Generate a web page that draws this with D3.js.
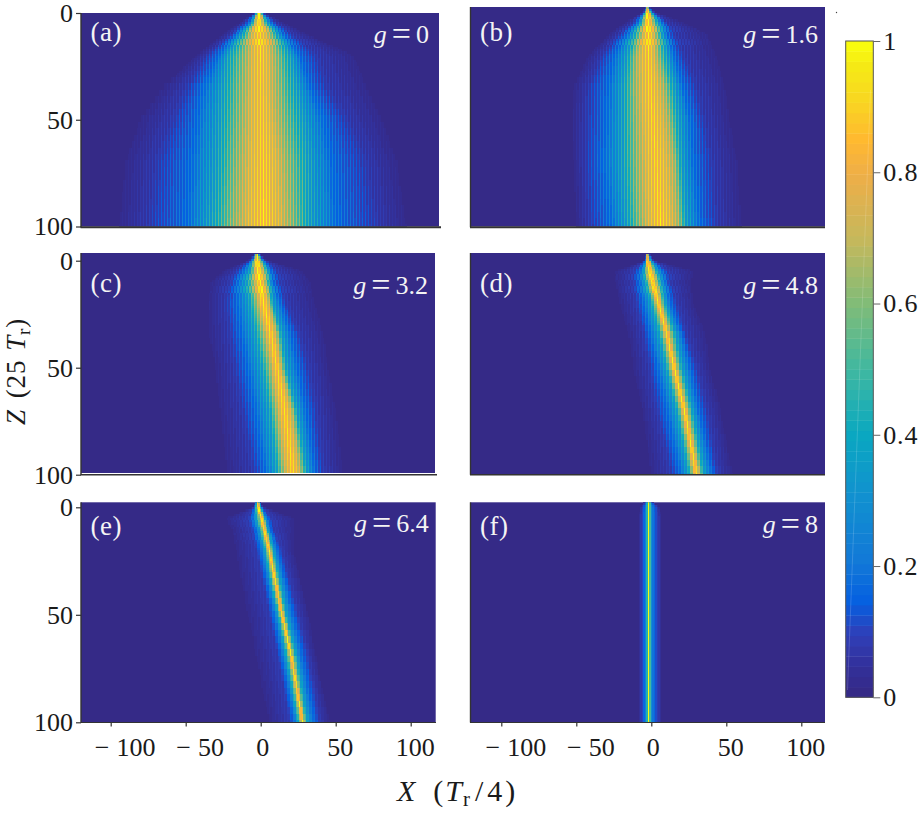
<!DOCTYPE html>
<html><head><meta charset="utf-8">
<script src="https://cdn.jsdelivr.net/npm/d3@7"></script>
<style>
html,body{margin:0;padding:0;background:#fff;overflow:hidden}
svg{display:block}
text{font-family:"Liberation Serif",serif;fill:#1a1a1a}
</style></head><body>
<script>
// ---- data ----
const colorbarTicks = [0, 0.2, 0.4, 0.6, 0.8, 1];
const colorStops = ["#352a87","#33309a","#2f3fb8","#0560e0","#1278d8","#1190d0","#0aa8c0","#40b8a0","#80bc78","#c5b85c","#eeae48","#ffb930","#f8d820","#f5ea15","#f9fb0e"];
const colorStopAt = [0, 0.04, 0.09, 0.14, 0.2, 0.3, 0.4, 0.5, 0.6, 0.7, 0.8, 0.854, 0.92, 0.97, 1];
const xTicks = [-100, -50, 0, 50, 100];
const zTicks = [0, 50, 100];
const zRows = [-3, 0, 5, 10, 20, 35, 50, 70, 100];
// intensity at each breakpoint, from far left through the crest to far right
const sideLevels = [0.015, 0.08, 0.2, 0.4, 0.7];
// each row: X where intensity crosses sideLevels going in, crest X, then out again
const rowsA = [
 [-2.5,-2.2,-2,-1.6,-1.3,-1,-.7,-.4,0,.3,.6],
 [-4,-3.5,-3,-2.5,-2,-1,0,.5,1,1.5,2],
 [-15,-11.5,-8,-6,-4,-1,2,5,8,11,17],
 [-25,-19,-16,-12,-7,-1,6,11,15,20,31],
 [-43,-36,-28,-22,-9,0,9,20,26,37,62],
 [-65,-49,-38,-25,-10,0,10,24,33,44,71],
 [-80,-58,-42,-27,-11,1,12,28,42,57,81],
 [-90,-69,-46,-29,-13,2,16,32,47,70,91],
 [-94,-74,-49,-33,-15,2,19,33,51,77,97]];
const rowsB = [
 [-4,-3.7,-3.4,-3.1,-2.9,-2.7,-2.5,-2.3,-2,-1.7,-1.4],
 [-6.4,-5.5,-5,-4.4,-3.8,-2.7,-1,0,1,2,3.5],
 [-19,-13,-10,-7.5,-5,-2.7,1.3,4.6,8,11,23],
 [-28,-21,-16,-12,-6.4,-2,2.4,7,10,15,37],
 [-42,-33,-25,-16,-10,-2,3.5,10,15,21,43],
 [-52,-42,-29,-19,-10,-1,8,15,21,30,49],
 [-53,-43,-30,-19,-9,1,11,18,26,35,52],
 [-52,-44,-32,-19,-8,3,15,20,28,40,57],
 [-50,-41,-27,-16,-6,6,18,23,32,43,60]];
const rowsC = [
 [-4,-3.7,-3.4,-3.1,-2.8,-2.2,-1.8,-1.5,-1.2,-.9,-.5],
 [-9,-7,-6,-5,-4,-2.2,-.5,1,2,3.5,5],
 [-25,-16,-11.5,-7,-4,-1.5,2,5,7,11,28],
 [-33,-20,-15,-9,-4,-.5,3,6,8,13,33],
 [-35,-23,-15,-7,-2,2,6,8,13,17,36],
 [-34,-20,-12,-3,3,7,11,14,20,26,42],
 [-30,-17,-8,1,7,11,14,17,24,32,45],
 [-27,-12,-3,6,11,16,21,24,30,37,50],
 [-22,-4,4,11,16,22,27,31,36,42,55]];
const rowsD = [
 [-4,-3.7,-3.4,-3.2,-3,-2.7,-2.4,-2.1,-1.8,-1.5,-1],
 [-5,-4.5,-4,-3.7,-3.4,-2.7,-1.5,-.5,.5,1.5,2.4],
 [-24,-12,-7.5,-5,-3,-1.5,1.3,3.5,7,11,28],
 [-24,-12,-7.5,-4,-1.5,.7,3,6,9,12,26],
 [-21,-10,-5,0,3,4.6,6.5,9,12,17,28],
 [-15,-5,0,5.5,8.8,10.6,12.5,16,20,23,36],
 [-12,-1,4.6,10,13,15,17,20,25,30,39],
 [-6,3.5,11,17,20,22,24,27,31,37,46],
 [0,13.5,20,25,28,30,32,35,40,44,54]];
const rowsE = [
 [-3.5,-3.2,-3,-2.7,-2.4,-1.5,-1.2,-1,-.8,-.5,-.2],
 [-5,-4.3,-3.8,-3.2,-2.6,-1.5,-.6,0,.6,1.2,2],
 [-23,-8,-5,-2.7,-.3,.7,1.7,3,4,7,22],
 [-19,-6,-2.7,-.4,1.4,2.4,3.4,4.7,6,8.4,22],
 [-16,-2.7,.7,3,4.8,5.8,6.8,8.4,10.7,14,22],
 [-12.7,1.8,5,7,9,10,11,13,16,19.5,27],
 [-8,6,9.5,11.8,13.4,14.4,15.4,17,20.7,25,32],
 [-2.7,11.8,15,17.5,19.7,20.7,21.7,24,27,32,37],
 [6,19.5,23,25,27,28,29,31,35,39.5,46]];
const rowsF = [
 [-4.5,-3.8,-3.3,-3,-2.5,-2,-1.4,-.8,-.7,-.3,.2],
 [-7.5,-6,-4.2,-3.1,-2.5,-2,-1.4,-.8,.8,3.5,5.5],
 [-8.6,-6.4,-4.2,-3.1,-2.5,-2,-1.4,-.8,.8,4,6.9],
 [-8.6,-6.4,-4.2,-3.1,-2.5,-2,-1.4,-.8,.8,4,6.9],
 [-8.6,-6.4,-4.2,-3.1,-2.5,-2,-1.4,-.8,.8,4,6.9],
 [-8.6,-6.4,-4.2,-3.1,-2.5,-2,-1.4,-.8,.8,4,6.9],
 [-8.6,-6.4,-4.2,-3.1,-2.5,-2,-1.4,-.8,.8,4,6.9],
 [-8.6,-6.4,-4.2,-3.1,-2.5,-2,-1.4,-.8,.8,4,6.9],
 [-8.6,-6.4,-4.2,-3.1,-2.5,-2,-1.4,-.8,.8,4,6.9]];
// crest intensity at each of zRows
const crestA = [1, 1, .97, .92, .9, .88, .88, .9, .92];
const crestB = [1, 1, .98, .95, .9, .9, .9, .9, .92];
const crestC = [1, 1, 1, .98, .95, .92, .92, .92, .92];
const crestD = [1, 1, 1, .98, .96, .95, .95, .95, .95];
const crestE = [1, 1, 1, .98, .97, .97, .97, .97, .98];
const crestF = [1, 1, 1, 1, 1, 1, 1, 1, 1];
const panelIds = ["(a)", "(b)", "(c)", "(d)", "(e)", "(f)"];
const gainLabels = ["0", "1.6", "3.2", "4.8", "6.4", "8"];
const panelRows = [rowsA, rowsB, rowsC, rowsD, rowsE, rowsF];
const panelCrest = [crestA, crestB, crestC, crestD, crestE, crestF];

// ---- layout ----
const W = 921, H = 813;
const layout = [
 {l:81, r:439,   t:13,   b:226.5, z0:13,    z1:226.5, x0:260.7, axR:441, axY:227.2, yAx:true,  xAx:false, axW:2,   tagY:41,  gY:42.5},
 {l:470.5,r:825, t:7,    b:226.5, z0:13,    z1:226.5, x0:651.3, axR:825, axY:227.2, yAx:false, xAx:false, axW:2,   tagY:41,  gY:43},
 {l:81, r:435,   t:253,  b:473,   z0:260.7, z1:474.7, x0:260.7, axR:437, axY:474.8, yAx:true,  xAx:false, axW:1.6, tagY:292, gY:294},
 {l:470.5,r:825, t:253,  b:474,   z0:260.7, z1:474.7, x0:651.3, axR:825, axY:474.8, yAx:false, xAx:false, axW:1.6, tagY:292, gY:294},
 {l:81, r:435.7, t:502.3,b:722,   z0:507.3, z1:722.3, x0:260.7, axR:436, axY:722.5, yAx:true,  xAx:true,  axW:1,   tagY:535, gY:532},
 {l:470.5,r:825, t:502.3,b:722,   z0:507.3, z1:722.3, x0:651.3, axR:825, axY:722.5, yAx:false, xAx:true,  axW:1,   tagY:535, gY:533}
];
const pxPerX = 1.5;
const axisInk = "#333";
const bg = colorStops[0];

// ---- colour ----
const parula = d3.scaleLinear().domain(colorStopAt).range(colorStops).clamp(true);
const bands = 64;
const colorOf = v => parula(Math.round(Math.min(1, Math.max(0, v)) * (bands - 1)) / (bands - 1));

const svg = d3.select("body").append("svg").attr("width", W).attr("height", H).attr("viewBox", [0,0,W,H]);
const xCols = d3.range(-125, 125);
const zSteps = d3.range(-3, 30, 1).concat(d3.range(30, 100, 3));
const stripeDepth = [0.08, 0.08, 0.07, 0.06, 0.04, 0];

layout.forEach((p, k) => {
  const g = svg.append("g");
  const clipId = "clip" + k;
  svg.append("clipPath").attr("id", clipId).append("rect")
    .attr("x", p.l).attr("y", p.t).attr("width", p.r - p.l).attr("height", p.b - p.t);
  const x = d3.scaleLinear().domain([-100, 100]).range([p.x0 - 100 * pxPerX, p.x0 + 100 * pxPerX]);
  const z = d3.scaleLinear().domain([0, 100]).range([p.z0, p.z1]);
  g.append("rect").attr("x", p.l).attr("y", p.t).attr("width", p.r - p.l).attr("height", p.b - p.t).attr("fill", bg);

  // breakpoints follow Z row by row
  const rows = panelRows[k];
  const crestAt = d3.scaleLinear().domain(zRows).range(panelCrest[k]).clamp(true);
  const tracks = d3.range(11).map(i => d3.scaleLinear().domain(zRows).range(rows.map(r => r[i])).clamp(true));

  const cells = [];
  zSteps.forEach((zv, ri) => {
    const zNext = ri + 1 < zSteps.length ? zSteps[ri + 1] : 101;
    const zMid = (zv + zNext) / 2;
    const bp = tracks.map(t => t(zMid));
    const levelAt = d3.scaleLinear()
      .domain(bp)
      .range([...sideLevels, crestAt(zMid), ...sideLevels.slice().reverse()]);
    const rowPhase = zv < 15 ? Math.floor((zv + 3) / 3) : 0;
    xCols.forEach(c => {
      if (c < bp[0] || c > bp[10]) return;
      const base = levelAt(c);
      const parity = ((c + rowPhase) & 1) ? -1 : 1;
      cells.push({c, zv, zNext, v: base + parity * stripeDepth[k] * Math.min(1, base / 0.3)});
    });
  });
  g.append("g").attr("clip-path", `url(#${clipId})`)
    .selectAll("rect").data(cells).join("rect")
    .attr("x", d => Math.round(x(d.c - 0.5)))
    .attr("y", d => Math.round(z(d.zv)))
    .attr("width", d => Math.round(x(d.c + 0.5)) - Math.round(x(d.c - 0.5)))
    .attr("height", d => Math.round(z(d.zNext)) - Math.round(z(d.zv)))
    .attr("shape-rendering", "crispEdges")
    .attr("fill", d => colorOf(d.v));

  // axis lines and ticks
  g.append("line").attr("x1", p.l - 0.5).attr("x2", p.axR).attr("y1", p.axY).attr("y2", p.axY)
    .attr("stroke", axisInk).attr("stroke-width", p.axW);
  g.append("line").attr("x1", p.l).attr("x2", p.l).attr("y1", p.t).attr("y2", p.axY)
    .attr("stroke", axisInk).attr("stroke-width", 1.4);

  if (p.yAx) {
    const ax = d3.axisLeft(z).tickValues(zTicks).tickSize(5).tickPadding(3);
    const gy = g.append("g").attr("transform", `translate(${p.l},0)`).call(ax);
    gy.select(".domain").remove();
    gy.selectAll("line").attr("stroke", axisInk).attr("stroke-width", 1.2);
    gy.selectAll("text").attr("font-size", 26).attr("fill", "#1a1a1a").style("font-family", '"Liberation Serif",serif');
  }
  if (p.xAx) {
    const ax = d3.axisBottom(x).tickValues(xTicks).tickSize(4).tickPadding(7).tickFormat(() => "");
    const gx = g.append("g").attr("transform", `translate(0,${p.axY})`).call(ax);
    gx.select(".domain").remove();
    gx.selectAll("line").attr("stroke", axisInk).attr("stroke-width", 1.2);
    gx.selectAll("text").each(function(d) {
      const t = d3.select(this).attr("font-size", 26).attr("text-anchor", "middle")
        .attr("fill", "#1a1a1a").style("font-family", '"Liberation Serif",serif')
        .attr("dx", d < 0 ? 14 : d === 0 ? 1.5 : 4).attr("y", 33).attr("dy", 0);
      if (d < 0) t.append("tspan").style("letter-spacing", "7px").text("\u2212");
      t.append("tspan").text(Math.abs(d));
    });
  }

  // panel tags
  g.append("text").attr("x", p.l + 9.5).attr("y", p.tagY)
    .attr("font-size", 27).style("letter-spacing", "0.5px").style("fill", "#f4f4f4").text(panelIds[k]);
  const gain = g.append("text").attr("x", p.r - (k === 0 ? 10 : 7)).attr("text-anchor", "end")
    .attr("y", p.gY).attr("font-size", 26).style("fill", "#f4f4f4");
  gain.append("tspan").attr("font-style", "italic").text("g");
  gain.append("tspan").attr("dx", 5).attr("dy", 2).attr("font-size", 34).text("=");
  gain.append("tspan").attr("dx", 5).attr("dy", -2).text(gainLabels[k]);
});

// ---- colour bar ----
const cbX = 845.7, cbW = 27.6;
const cb = d3.scaleLinear().domain([0, 1]).range([697.3, 41]);
const cbSteps = d3.range(bands).map(i => i / bands);
const cbG = svg.append("g");
cbG.selectAll("rect").data(cbSteps).join("rect")
  .attr("x", cbX).attr("width", cbW)
  .attr("y", d => cb(d + 1 / bands))
  .attr("height", (cb(0) - cb(1)) / bands + 0.4)
  .attr("fill", d => colorOf(d * bands / (bands - 1)));
cbG.append("line").attr("x1", 870.5).attr("y1", 90).attr("x2", 847.5).attr("y2", 690)
  .attr("stroke", "#fff").attr("stroke-opacity", 0.2).attr("stroke-width", 0.8);
cbG.append("rect").attr("x", cbX).attr("y", cb(1)).attr("width", cbW).attr("height", cb(0) - cb(1))
  .attr("fill", "none").attr("stroke", "#555").attr("stroke-width", 1);
const cbAxis = d3.axisRight(cb).tickValues(colorbarTicks).tickSize(7).tickPadding(3).tickFormat(d3.format("~g"));
const gc = svg.append("g").attr("transform", `translate(${cbX + cbW},0)`).call(cbAxis);
gc.select(".domain").remove();
gc.selectAll("line").attr("stroke", "#666").attr("stroke-width", 1);
gc.selectAll("text").attr("font-size", 26).attr("fill", "#1a1a1a").style("letter-spacing", "0.8px").style("font-family", '"Liberation Serif",serif');
svg.append("circle").attr("cx", 836.5).attr("cy", 12.5).attr("r", 0.7).attr("fill", "#444");

// ---- axis titles ----
const xt = svg.append("text").attr("x", 397).attr("y", 801).attr("font-size", 30);
xt.append("tspan").attr("font-style", "italic").text("X");
xt.append("tspan").attr("dx", 18).text("(");
xt.append("tspan").attr("dx", 2).attr("font-style", "italic").text("T");
xt.append("tspan").attr("font-size", 21).attr("dy", 5).attr("dx", 1).text("r");
xt.append("tspan").attr("dy", -5).attr("dx", 5).text("/");
xt.append("tspan").attr("dx", 4).text("4");
xt.append("tspan").attr("dx", 3).text(")");
const yt = svg.append("text").attr("transform", "translate(25,425) rotate(-90)").attr("font-size", 27).style("letter-spacing", "0.8px");
yt.append("tspan").attr("font-style", "italic").text("Z");
yt.append("tspan").attr("dx", 11).text("(25");
yt.append("tspan").attr("dx", 9).attr("font-style", "italic").text("T");
yt.append("tspan").attr("font-size", 19).attr("dy", 5).text("r");
yt.append("tspan").attr("dy", -5).text(")");
</script>
</body></html>
